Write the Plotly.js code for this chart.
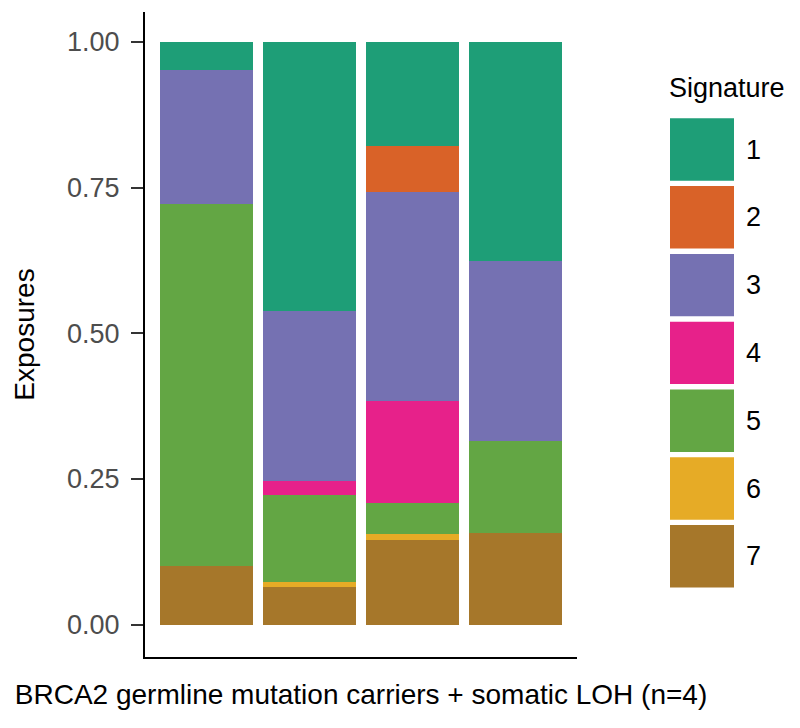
<!DOCTYPE html>
<html>
<head>
<meta charset="utf-8">
<script src="https://cdn.plot.ly/plotly-3.0.1.min.js"></script>
<style>html,body{margin:0;padding:0;background:#fff;}#chart{width:800px;height:728px;}</style>
</head>
<body>
<div id="chart"></div>
<script>
// ---- data ----
const samples = ['S1', 'S2', 'S3', 'S4'];
const signatures = ['1', '2', '3', '4', '5', '6', '7'];
const sig1 = [0.048, 0.462, 0.178, 0.376];
const sig2 = [0.000, 0.000, 0.080, 0.000];
const sig3 = [0.230, 0.292, 0.358, 0.309];
const sig4 = [0.000, 0.023, 0.175, 0.000];
const sig5 = [0.622, 0.149, 0.054, 0.158];
const sig6 = [0.000, 0.010, 0.010, 0.000];
const sig7 = [0.100, 0.064, 0.145, 0.157];
const colors = ['#1E9E77', '#D96228', '#7571B2', '#E7218A', '#63A644', '#E6AB26', '#A6772A'];
const yTickVals = [0, 0.25, 0.5, 0.75, 1];
const yTickText = ['0.00', '0.25', '0.50', '0.75', '1.00'];
const xTitle = 'BRCA2 germline mutation carriers + somatic LOH (n=4)';
const yTitle = 'Exposures';
const legendTitle = 'Signature';

const series = [sig1, sig2, sig3, sig4, sig5, sig6, sig7];

// ---- layout geometry (pixels) ----
const W = 800, H = 728;
const M = {l: 145, r: 223, t: 12, b: 71};
const plotW = W - M.l - M.r, plotH = H - M.t - M.b;
const px2x = px => (px - M.l) / plotW;
const px2y = py => (H - M.b - py) / plotH;
const FONT = '"Liberation Sans", Arial, Helvetica, sans-serif';

// stacked bottom-to-top: signature 7 first, signature 1 last
const traces = [];
for (let i = series.length - 1; i >= 0; i--) {
  traces.push({
    type: 'bar',
    name: signatures[i],
    x: samples,
    y: series[i],
    marker: {color: colors[i], line: {width: 0}},
    showlegend: false,
    hoverinfo: 'name+y'
  });
}

// manual legend (large ggplot-style keys)
const shapes = [];
const annotations = [];
const keyX0 = 670, keyX1 = 734, keyTop = 118.3, keyH = 62.4, keyStep = 67.8;
signatures.forEach((s, i) => {
  const y0 = keyTop + i * keyStep;
  shapes.push({
    type: 'rect', xref: 'paper', yref: 'paper',
    x0: px2x(keyX0), x1: px2x(keyX1), y0: px2y(y0 + keyH), y1: px2y(y0),
    fillcolor: colors[i], line: {width: 0}, layer: 'above'
  });
  annotations.push({
    xref: 'paper', yref: 'paper', x: px2x(744), y: px2y(y0 + keyH / 2),
    xanchor: 'left', yanchor: 'middle', showarrow: false, text: s,
    font: {family: FONT, size: 27, color: '#000'}
  });
});
annotations.push({
  xref: 'paper', yref: 'paper', x: px2x(667), y: px2y(88),
  xanchor: 'left', yanchor: 'middle', showarrow: false, text: legendTitle,
  font: {family: FONT, size: 27, color: '#000'}
});

const layout = {
  width: W, height: H,
  margin: M,
  paper_bgcolor: '#fff', plot_bgcolor: '#fff',
  barmode: 'stack',
  bargap: 0.1,
  font: {family: FONT, color: '#000'},
  xaxis: {
    type: 'category',
    range: [-0.6, 3.6],
    showticklabels: false,
    ticks: '',
    showgrid: false, zeroline: false,
    showline: true, linecolor: '#000', linewidth: 2,
    title: {text: xTitle, font: {family: FONT, size: 28, color: '#000'}, standoff: 26},
    automargin: false,
    fixedrange: true
  },
  yaxis: {
    range: [-0.0554, 1.0515],
    tickvals: yTickVals, ticktext: yTickText,
    ticks: 'outside', ticklen: 12, tickwidth: 2, tickcolor: '#333',
    tickfont: {family: FONT, size: 27, color: '#4D4D4D'},
    ticklabelstandoff: 6,
    showgrid: false, zeroline: false,
    showline: true, linecolor: '#000', linewidth: 2,
    title: {text: yTitle, font: {family: FONT, size: 28, color: '#000'}, standoff: 24},
    automargin: false,
    fixedrange: true
  },
  shapes: shapes,
  annotations: annotations,
  showlegend: false
};

Plotly.newPlot('chart', traces, layout, {displayModeBar: false, staticPlot: true});
</script>
</body>
</html>
